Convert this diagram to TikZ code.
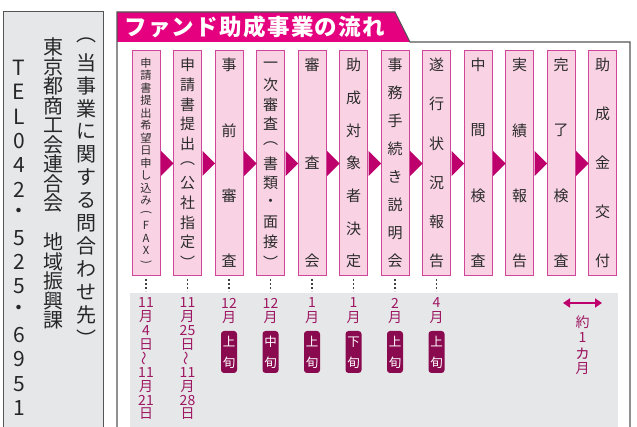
\documentclass[tikz,border=0pt]{standalone}
\usepackage{fontspec}
\usepackage{graphicx}
\setmainfont{Noto Sans CJK JP}
\usetikzlibrary{arrows.meta}
\definecolor{mag}{HTML}{E4007F}
\definecolor{boxfill}{HTML}{F9D3E4}
\definecolor{boxdraw}{HTML}{CF4597}
\definecolor{tri}{HTML}{BE006C}
\definecolor{datec}{HTML}{9E1762}
\definecolor{badgec}{HTML}{8A0A50}
\definecolor{panel}{HTML}{E6E7E9}
\definecolor{framec}{HTML}{555555}
\definecolor{ink}{HTML}{2B2B2B}
\newcommand\vcol[7]{%
  \foreach \c [count=\i from 0] in {#7} {
    \node[#6] (#1-\i) at ({#2}, {#3+(#4-#3)*\i/(#5-1)}) {\c};
  }}
\tikzset{
  glyph/.style={inner sep=0pt, outer sep=0pt, text=ink, font=\fontsize{15}{15}\selectfont},
  smallglyph/.style={glyph, font=\fontsize{11.2}{11.2}\selectfont},
  leftglyph/.style={inner sep=0pt, outer sep=0pt, text=black!85, font=\fontsize{20}{20}\selectfont},
  telglyph/.style={inner sep=0pt, outer sep=0pt, text=black!85, font=\fontsize{21}{21}\selectfont},
  dateglyph/.style={inner sep=0pt, outer sep=0pt, text=datec, font=\fontsize{14}{14}\selectfont},
  badgeglyph/.style={inner sep=0pt, outer sep=0pt, text=white, font=\fontsize{12.5}{12.5}\selectfont},
  stepbox/.style={draw=boxdraw, fill=boxfill, line width=1pt, minimum width=28pt, minimum height=225pt, inner sep=0pt},
  badgebox/.style={fill=badgec, rounded corners=3pt, minimum width=16pt, minimum height=42pt, inner sep=0pt},
  tip/.style={fill=tri},
  dots/.style={draw=black!75, line width=1.6pt, dash pattern=on 1.4pt off 2.6pt},
}
\newcommand\wv{\rotatebox[origin=c]{90}{～}}
\newcommand\lpar{\rotatebox[origin=c]{-90}{(}}
\newcommand\rpar{\rotatebox[origin=c]{-90}{)}}
\newcommand\smallka{{\fontsize{17}{17}\selectfont ヵ}}
\begin{document}
\begin{tikzpicture}[x=1pt,y=-1pt]
\useasboundingbox (0,0) rectangle (637,427);
% left contact panel
\filldraw[fill=panel, draw=framec, line width=1pt] (3,12) rectangle (103,440);
\vcol{ca}{86}{40}{338}{14}{leftglyph}{︵,当,事,業,に,関,す,る,問,合,わ,せ,先,︶}
\vcol{cb}{53}{47}{320}{15}{leftglyph}{東,京,都,商,工,会,連,合,会,{},地,域,振,興,課}
\vcol{cc}{19}{68}{408}{15}{telglyph}{T,E,L,0,4,2,・,5,2,5,・,6,9,5,1}
% frame and banner
\fill[mag] (117,12) -- (395,12) -- (410,42) -- (117,42) -- cycle;
\draw[framec, line width=1.1pt] (117,440) -- (117,12) -- (395,12) -- (410,42) -- (630,42) -- (630,440);
\node[anchor=west, text=white, inner sep=0pt, font=\fontsize{22.5}{22.5}\selectfont\bfseries\addfontfeature{LetterSpace=6}] (title) at (124,27) {ファンド助成事業の流れ};
% gray date area
\fill[panel] (130,293) rectangle (618,440);
% step boxes
\foreach \k in {1,...,12} {
  \node[stepbox] (b\k) at ({146+41.5*(\k-1)}, 163.5) {};
}
\foreach \k in {1,...,11} {
  \fill[tip] ([xshift=0.5pt]b\k.east) ++(0,-12.5) -- ++(12.5,12.5) -- ++(-12.5,12.5) -- cycle;
}
\vcol{t1}{146}{63}{263}{17}{smallglyph}{申,請,書,提,出,希,望,日,申,し,込,み,\lpar,F,A,X,\rpar}
\vcol{t2}{187.5}{65}{262}{11}{glyph}{申,請,書,提,出,︵,公,社,指,定,︶}
\vcol{t3}{229}{65}{261}{4}{glyph}{事,前,審,査}
\vcol{t4}{270.5}{65}{262}{11}{glyph}{一,次,審,査,︵,書,類,・,面,接,︶}
\vcol{t5}{312}{65}{261}{3}{glyph}{審,査,会}
\vcol{t6}{353.5}{65}{261}{7}{glyph}{助,成,対,象,者,決,定}
\vcol{t7}{395}{65}{261}{8}{glyph}{事,務,手,続,き,説,明,会}
\vcol{t8}{436.5}{65}{261}{6}{glyph}{遂,行,状,況,報,告}
\vcol{t9}{478}{65}{261}{4}{glyph}{中,間,検,査}
\vcol{t10}{519.5}{65}{261}{4}{glyph}{実,績,報,告}
\vcol{t11}{561}{65}{261}{4}{glyph}{完,了,検,査}
\vcol{t12}{602.5}{65}{261}{5}{glyph}{助,成,金,交,付}
% dotted leaders
\foreach \k in {1,...,8} {
  \coordinate (d\k) at ([yshift=-15pt]b\k.south);
  \draw[dots] ([yshift=-3pt]b\k.south) -- (d\k);
}
% dates
\vcol{dt1}{146}{303}{414}{9}{dateglyph}{11,月,4,日,\wv,11,月,21,日}
\vcol{dt2}{187.5}{303}{414}{9}{dateglyph}{11,月,25,日,\wv,11,月,28,日}
\vcol{dt3}{229}{303}{318}{2}{dateglyph}{12,月}
\vcol{dt4}{270.5}{303}{318}{2}{dateglyph}{12,月}
\vcol{dt5}{312}{303}{318}{2}{dateglyph}{1,月}
\vcol{dt6}{353.5}{303}{318}{2}{dateglyph}{1,月}
\vcol{dt7}{395}{303}{318}{2}{dateglyph}{2,月}
\vcol{dt8}{436.5}{303}{318}{2}{dateglyph}{4,月}
\foreach \k/\x/\w in {3/229/上,4/270.5/中,5/312/上,6/353.5/下,7/395/上,8/436.5/上} {
  \node[badgebox] (bd\k) at (\x,352) {};
  \node[badgeglyph] (bu\k) at (\x,342) {\w};
  \node[badgeglyph] (bl\k) at (\x,362.5) {旬};
}
% about one month
\coordinate (aL) at (563,303);
\coordinate (aR) at (602,303);
\draw[tri, line width=2.2pt, {Triangle[length=7pt,width=9pt]}-{Triangle[length=7pt,width=9pt]}] (aL) -- (aR);
\vcol{m}{582.5}{322}{369}{4}{dateglyph}{約,1,\smallka,月}
\end{tikzpicture}
\end{document}
